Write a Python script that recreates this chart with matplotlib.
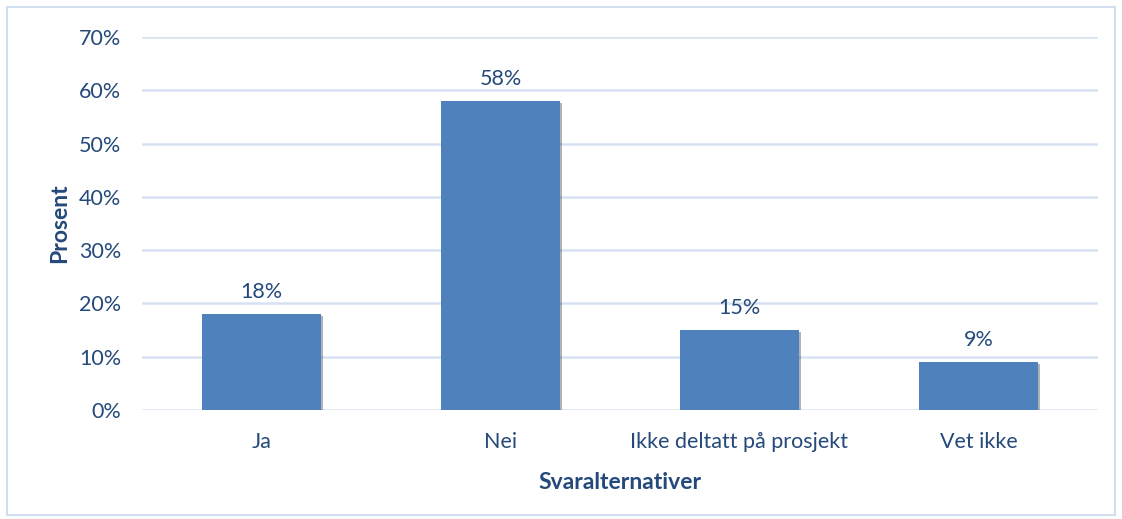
import matplotlib.pyplot as plt
import matplotlib.patheffects as pe
from matplotlib.patches import Rectangle

categories = ['Ja', 'Nei', 'Ikke deltatt på prosjekt', 'Vet ikke']
values = [18, 58, 15, 9]
yticks = [0, 10, 20, 30, 40, 50, 60, 70]

text_color = '#24497A'
bar_color = '#4F81BD'
grid_color = '#D6E2F1'

plt.rcParams['font.family'] = ['Lato', 'DejaVu Sans']

fig = plt.figure(figsize=(11.22, 5.19), dpi=100)
ax = fig.add_axes([142 / 1122, 1 - 410 / 519, 956 / 1122, 373 / 519])

fig.patches.append(Rectangle((7 / 1122, 4 / 519), 1108 / 1122, 508 / 519,
                             transform=fig.transFigure, fill=False,
                             edgecolor='#D0DEF0', linewidth=1.5))

x = range(len(categories))
bars = ax.bar(x, values, width=0.5, color=bar_color, zorder=3,
              path_effects=[pe.SimplePatchShadow(offset=(1.5, -1.5), alpha=0.35), pe.Normal()])

for xi, v in zip(x, values):
    ax.text(xi, v + 2.3, f'{v}%', ha='center', va='bottom', fontsize=15.5, color=text_color)

ax.set_xlim(-0.5, 3.5)
ax.set_ylim(0, 70)
ax.set_yticks(yticks)
ax.set_yticklabels([f'{t}%' for t in yticks])
ax.set_xticks(list(x))
ax.set_xticklabels(categories)
ax.tick_params(axis='both', length=0, labelsize=15.5, labelcolor=text_color)
ax.tick_params(axis='y', pad=15)
ax.tick_params(axis='x', pad=16)

ax.grid(axis='y', color=grid_color, linewidth=1.8, zorder=0)
for s in ax.spines.values():
    s.set_visible(False)

ax.set_ylabel('Prosent', fontsize=16.5, fontweight='bold', color=text_color, labelpad=6)
ax.set_xlabel('Svaralternativer', fontsize=16.5, fontweight='bold', color=text_color, labelpad=14)

fig.savefig('out.png', dpi=100)
